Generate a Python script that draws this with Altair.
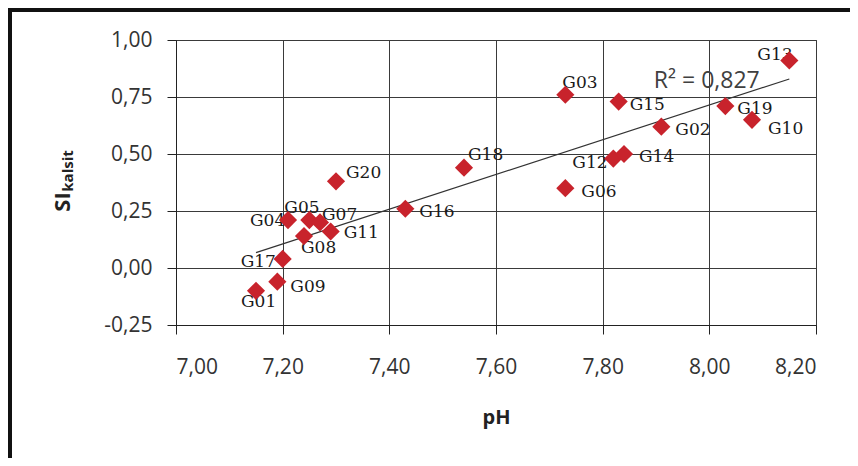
import altair as alt
import pandas as pd

# ---- data ----
samples = ["G01", "G02", "G03", "G04", "G05", "G06", "G07", "G08", "G09", "G10",
           "G11", "G12", "G13", "G14", "G15", "G16", "G17", "G18", "G19", "G20"]
ph = [7.15, 7.91, 7.73, 7.21, 7.25, 7.73, 7.27, 7.24, 7.19, 8.08,
      7.29, 7.82, 8.15, 7.84, 7.83, 7.43, 7.20, 7.54, 8.03, 7.30]
si_kalsit = [-0.10, 0.62, 0.76, 0.21, 0.21, 0.35, 0.20, 0.14, -0.06, 0.65,
             0.16, 0.48, 0.91, 0.50, 0.73, 0.26, 0.04, 0.44, 0.71, 0.38]

x_ticks = [7.0, 7.2, 7.4, 7.6, 7.8, 8.0, 8.2]
y_ticks = [-0.25, 0.0, 0.25, 0.5, 0.75, 1.0]
r2_text = "R\u00b2 = 0,827"
x_title = "pH"
y_title_main = "SI"
y_title_sub = "kalsit"

# ---- label placement (style, pixels) ----
label_dx = [-15, 14, -3, -38, -25, 16, 2, -3, 13, 16,
            13, -41, -32, 15, 11, 14, -42, 4, 12, 10]
label_dy = [16, 8, -7, 6, -7, 9, -2, 17, 10, 14,
            6, 9, -1, 8, 8, 8, 8, -8, 8, -3]

df = pd.DataFrame({"sample": samples, "pH": ph, "SI": si_kalsit})

label_expr = "replace(replace(format(datum.value, '.2f'), '.', ','), '\u2212', '-')"
xs = alt.Scale(domain=[7.0, 8.2], nice=False, zero=False)
ys = alt.Scale(domain=[-0.25, 1.0], nice=False, zero=False)

common_axis = dict(grid=True, gridColor="#3a3a3a", gridWidth=1, domainColor="#222",
                   tickColor="#222", tickSize=9, labelFont="Open Sans",
                   labelFontSize=21, labelColor="#333")

x_enc = alt.X("pH:Q", scale=xs,
              axis=alt.Axis(values=x_ticks, labelExpr=label_expr, title=x_title,
                            labelPadding=22, titleFont="Open Sans", titleFontWeight="bold",
                            titleFontSize=20, titleColor="#222", titlePadding=30,
                            **common_axis))
y_enc = alt.Y("SI:Q", scale=ys,
              axis=alt.Axis(values=y_ticks, labelExpr=label_expr, title=None,
                            labelPadding=15, **common_axis))

trend = alt.Chart(df).transform_regression("pH", "SI").mark_line(
    color="#333", strokeWidth=1.2).encode(x=x_enc, y=y_enc)

label_layers = []
for i, name in enumerate(samples):
    label_layers.append(
        alt.Chart(df).transform_filter(alt.datum.sample == name).mark_text(
            align="left", baseline="alphabetic", font="DejaVu Serif", fontSize=17,
            color="#1a1a1a", dx=label_dx[i], dy=label_dy[i]
        ).encode(x=alt.X("pH:Q", scale=xs), y=alt.Y("SI:Q", scale=ys), text="sample:N")
    )

points = alt.Chart(df).mark_point(
    shape="diamond", filled=True, size=330, color="#C8232C", opacity=1
).encode(x=alt.X("pH:Q", scale=xs), y=alt.Y("SI:Q", scale=ys))

r2 = alt.Chart(pd.DataFrame({"t": [r2_text], "pH": [7.896], "SI": [0.789]})).mark_text(
    align="left", baseline="alphabetic", font="Open Sans", fontSize=23, color="#404040"
).encode(x=alt.X("pH:Q", scale=xs), y=alt.Y("SI:Q", scale=ys), text="t:N")

ytitle_main = alt.Chart(pd.DataFrame({"t": [y_title_main]})).mark_text(
    angle=270, align="center", baseline="alphabetic", font="Open Sans",
    fontWeight="bold", fontSize=22, color="#222"
).encode(x=alt.value(-106), y=alt.value(162), text="t:N")

ytitle_sub = alt.Chart(pd.DataFrame({"t": [y_title_sub]})).mark_text(
    angle=270, align="center", baseline="alphabetic", font="Open Sans",
    fontWeight="bold", fontSize=15, color="#222"
).encode(x=alt.value(-103), y=alt.value(131), text="t:N")

frame_left = alt.Chart(pd.DataFrame({"a": [0]})).mark_rule(
    color="#111", strokeWidth=4
).encode(x=alt.value(-166), y=alt.value(-32), y2=alt.value(430))

frame_top = alt.Chart(pd.DataFrame({"a": [0]})).mark_rule(
    color="#111", strokeWidth=4
).encode(x=alt.value(-168), x2=alt.value(690), y=alt.value(-30))

chart = alt.layer(
    trend, *label_layers, points, r2, ytitle_main, ytitle_sub, frame_left, frame_top
).properties(
    width=640, height=285,
    autosize=alt.AutoSizeParams(type="none"),
    padding={"left": 168, "top": 32, "right": 34, "bottom": 133},
).configure_view(stroke="#333", strokeWidth=1)

chart.save("out.html", embed_options={"renderer": "svg", "actions": False})
